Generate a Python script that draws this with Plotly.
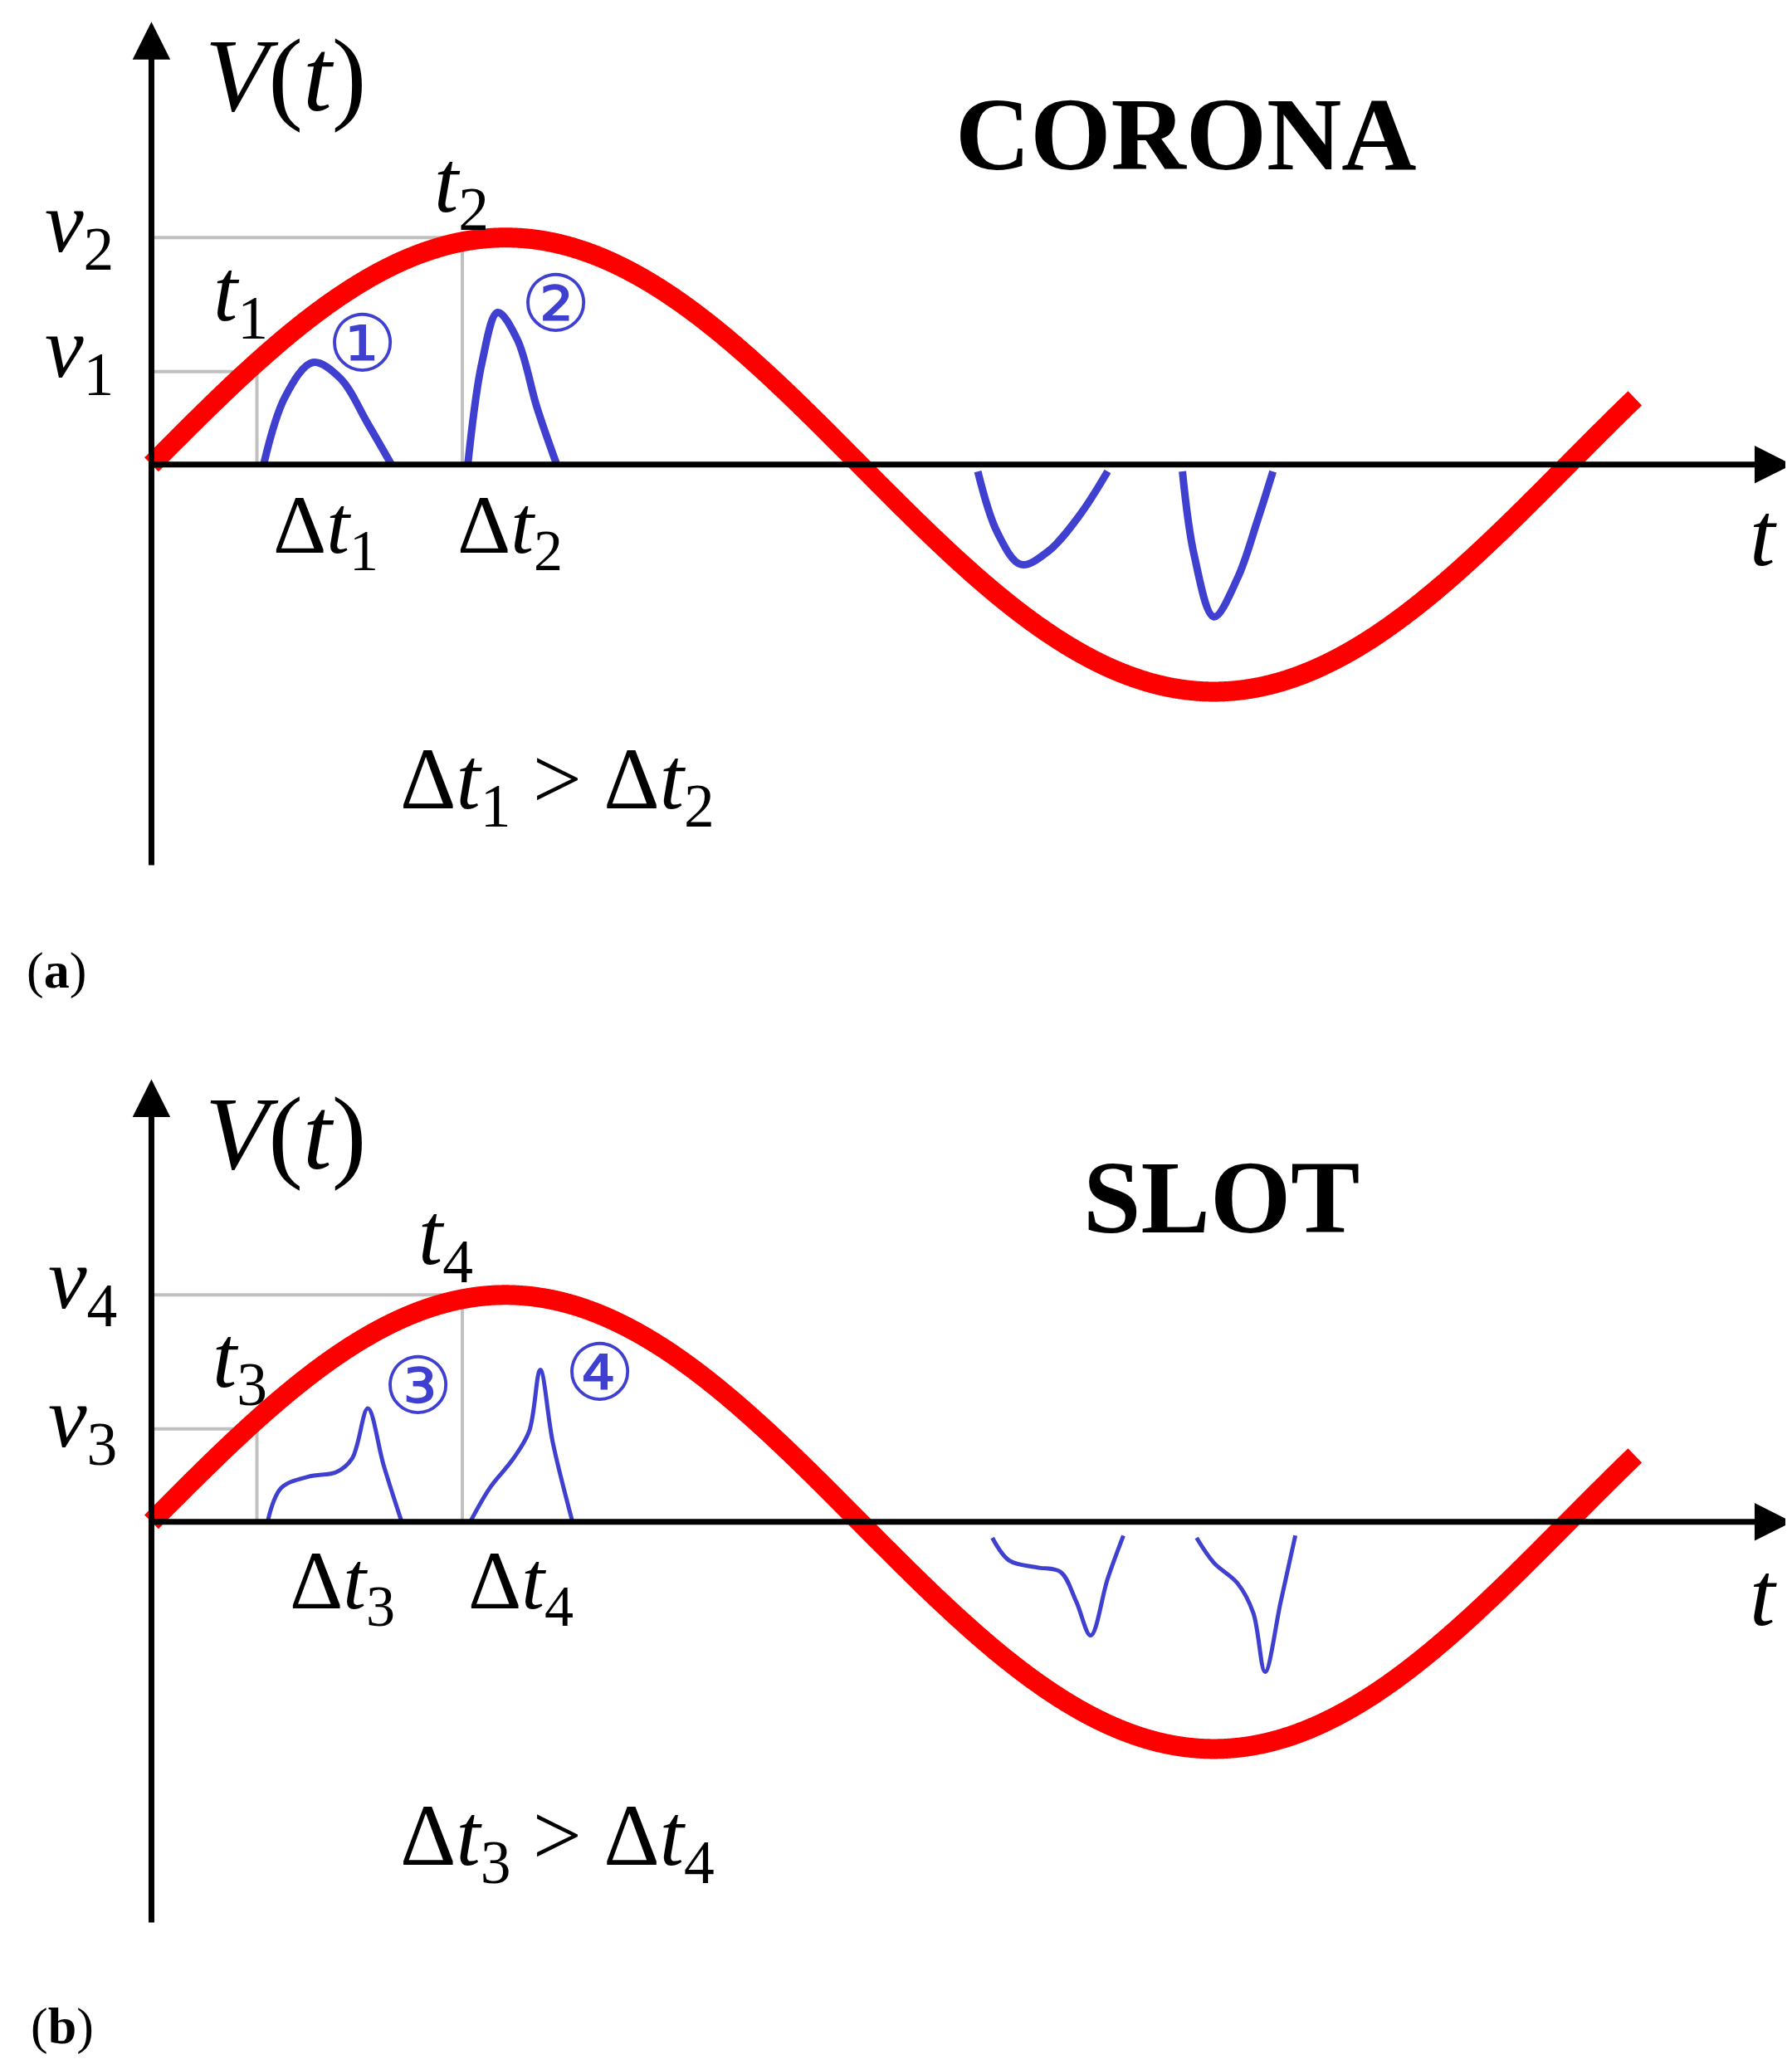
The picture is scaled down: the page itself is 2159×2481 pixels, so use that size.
import numpy as np
import plotly.graph_objects as go

W, H = 2159, 2481
# sine (degrees, unit amplitude)
t_deg = np.linspace(0, 377, 1200)
v_sin = np.sin(np.radians(t_deg))

# Panel (a) corona pulses
p1_x = [28.5, 34, 41, 48, 55, 61]; p1_y = [0, 0.3, 0.45, 0.38, 0.18, 0]
p2_x = [80.4, 84, 88, 93, 98, 103]; p2_y = [0, 0.45, 0.67, 0.55, 0.25, 0]
n1_x = [210, 215, 221, 228, 236, 243]; n1_y = [-0.03, -0.3, -0.44, -0.38, -0.22, -0.03]
n2_x = [262, 265, 270, 276, 281, 285]; n2_y = [-0.03, -0.4, -0.67, -0.5, -0.25, -0.03]
# Panel (b) slot pulses
p3_x = [29.5, 33, 40, 47, 51, 55, 59, 63.6]; p3_y = [0, 0.15, 0.2, 0.22, 0.28, 0.5, 0.25, 0]
p4_x = [81, 86, 92, 96, 98.8, 102, 107]; p4_y = [0, 0.15, 0.28, 0.4, 0.67, 0.35, 0]
n3_x = [213.7, 218, 225, 231, 235, 238.7, 243, 247]; n3_y = [-0.07, -0.17, -0.2, -0.22, -0.35, -0.5, -0.25, -0.06]
n4_x = [265.6, 270, 276, 280, 283, 287, 290.7]; n4_y = [-0.07, -0.18, -0.27, -0.4, -0.66, -0.35, -0.06]

v1, t1 = 0.41, 26.8
v2, t2 = 1.0, 79
v3, t3 = 0.41, 26.8
v4, t4 = 1.0, 79

XR = [-36.8, 418.6]
YRA = [-2.517, 2.017]
YRB = [-2.395, 2.14]

fig = go.Figure()
RED = "#ff0000"; BLUE = "#4040d0"; GRAY = "#c0c0c0"

def add_panel(xa, ya, v_lo, t_lo, v_hi, t_hi, pulses, bw):
    for xs, ys in [([0, t_lo, t_lo], [v_lo, v_lo, 0]), ([0, t_hi, t_hi], [v_hi, v_hi, 0])]:
        fig.add_trace(go.Scatter(x=xs, y=ys, mode="lines", line=dict(color=GRAY, width=4),
                                 xaxis=xa, yaxis=ya, showlegend=False, hoverinfo="skip"))
    for xs, ys in pulses:
        fig.add_trace(go.Scatter(x=xs, y=ys, mode="lines", line=dict(color=BLUE, width=bw, shape="spline"),
                                 xaxis=xa, yaxis=ya, showlegend=False, hoverinfo="skip"))
    fig.add_trace(go.Scatter(x=t_deg, y=v_sin, mode="lines",
                             line=dict(color=RED, width=24, simplify=False, shape="spline"),
                             xaxis=xa, yaxis=ya, showlegend=False, hoverinfo="skip"))

add_panel("x", "y", v1, t1, v2, t2, [(p1_x, p1_y), (p2_x, p2_y), (n1_x, n1_y), (n2_x, n2_y)], 9)
add_panel("x2", "y2", v3, t3, v4, t4, [(p3_x, p3_y), (p4_x, p4_y), (n3_x, n3_y), (n4_x, n4_y)], 5)

ax_common = dict(visible=False, range=XR, fixedrange=True)
fig.update_layout(
    width=W, height=H, margin=dict(l=0, r=0, t=0, b=0),
    paper_bgcolor="white", plot_bgcolor="white",
    xaxis=dict(**ax_common, anchor="y"),
    yaxis=dict(visible=False, range=YRA, domain=[0.5, 1], anchor="x"),
    xaxis2=dict(**ax_common, anchor="y2"),
    yaxis2=dict(visible=False, range=YRB, domain=[0, 0.5], anchor="x2"),
)

SERIF = "Liberation Serif"

def txt(s, px, py, y0, xr, yr, size, color="black", family=SERIF):
    x = (px - 110) / 2.986
    y = (y0 - py) / 172.0
    fig.add_annotation(x=x, y=y, xref=xr, yref=yr, text=s, showarrow=False,
                       font=dict(family=family, size=size, color=color), xanchor="center", yanchor="middle")

def axes_arrows(xr, yr):
    fig.add_annotation(x=0, y=1.95, ax=0, ay=-1.77, xref=xr, yref=yr, axref=xr, ayref=yr,
                       showarrow=True, arrowhead=2, arrowsize=1.3, arrowwidth=7, arrowcolor="black", text="")
    fig.add_annotation(x=417, y=0, ax=0, ay=0, xref=xr, yref=yr, axref=xr, ayref=yr,
                       showarrow=True, arrowhead=2, arrowsize=1.3, arrowwidth=7, arrowcolor="black", text="")

axes_arrows("x", "y")
axes_arrows("x2", "y2")

it = lambda s: "<i>" + s + "</i>"
CIRC = "DejaVu Sans"
# Panel a
Y0 = 347
txt(it("V") + "(" + it("t") + ")", 212, 52, Y0, "x", "y", 125)
txt(it("t") + "<sub>2</sub>", 345, 138, Y0, "x", "y", 105)
txt(it("v") + "<sub>2</sub>", 55, 168, Y0, "x", "y", 105)
txt(it("t") + "<sub>1</sub>", 178, 220, Y0, "x", "y", 105)
txt(it("v") + "<sub>1</sub>", 55, 263, Y0, "x", "y", 105)
txt("Δ" + it("t") + "<sub>1</sub>", 242, 397, Y0, "x", "y", 100)
txt("Δ" + it("t") + "<sub>2</sub>", 382, 397, Y0, "x", "y", 100)
txt(it("t"), 1333, 400, Y0, "x", "y", 110)
txt("<b>CORONA</b>", 895, 97, Y0, "x", "y", 125)
txt("Δ" + it("t") + "<sub>1</sub> > Δ" + it("t") + "<sub>2</sub>", 418, 590, Y0, "x", "y", 105)
txt("(<b>a</b>)", 38, 730, Y0, "x", "y", 62)
txt("①", 270, 255, Y0, "x", "y", 95, BLUE, CIRC)
txt("②", 417, 225, Y0, "x", "y", 95, BLUE, CIRC)
# Panel b
Y0 = 1148
txt(it("V") + "(" + it("t") + ")", 212, 854, Y0, "x2", "y2", 125)
txt(it("t") + "<sub>4</sub>", 333, 935, Y0, "x2", "y2", 105)
txt(it("v") + "<sub>4</sub>", 58, 968, Y0, "x2", "y2", 105)
txt(it("t") + "<sub>3</sub>", 177, 1028, Y0, "x2", "y2", 105)
txt(it("v") + "<sub>3</sub>", 58, 1073, Y0, "x2", "y2", 105)
txt("Δ" + it("t") + "<sub>3</sub>", 255, 1197, Y0, "x2", "y2", 100)
txt("Δ" + it("t") + "<sub>4</sub>", 390, 1197, Y0, "x2", "y2", 100)
txt(it("t"), 1333, 1203, Y0, "x2", "y2", 110)
txt("<b>SLOT</b>", 922, 902, Y0, "x2", "y2", 125)
txt("Δ" + it("t") + "<sub>3</sub> > Δ" + it("t") + "<sub>4</sub>", 418, 1390, Y0, "x2", "y2", 105)
txt("(<b>b</b>)", 42, 1530, Y0, "x2", "y2", 62)
txt("③", 312, 1045, Y0, "x2", "y2", 95, BLUE, CIRC)
txt("④", 450, 1035, Y0, "x2", "y2", 95, BLUE, CIRC)

fig.write_html("out.html")
